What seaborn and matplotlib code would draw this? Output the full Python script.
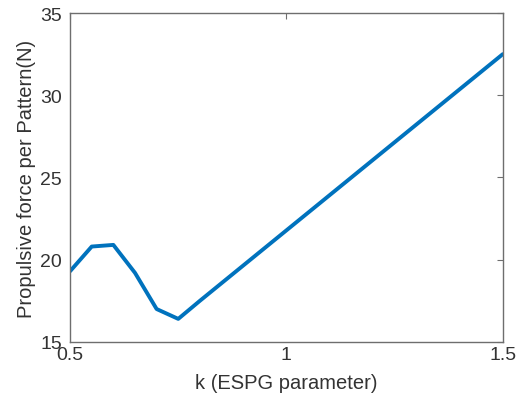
import matplotlib
matplotlib.use("Agg")
import matplotlib.pyplot as plt
import seaborn as sns
import pandas as pd

# DATA
k_values = [0.5, 0.55, 0.6, 0.65, 0.7, 0.75, 0.8, 1.5]
force_values = [19.3, 20.8, 20.9, 19.2, 17.0, 16.4, 17.5, 32.5]

df = pd.DataFrame({"k": k_values, "force": force_values})

sns.set_style("white")
plt.rcParams["font.family"] = ["Liberation Sans", "DejaVu Sans"]

fig = plt.figure(figsize=(5.27, 4.02), dpi=100)
ax = fig.add_axes([0.133, 0.147, 0.821, 0.818])

sns.lineplot(data=df, x="k", y="force", ax=ax, color="#0072BD", linewidth=2.8)

ax.set_xlim(0.5, 1.5)
ax.set_ylim(15, 35)
ax.set_xticks([0.5, 1, 1.5])
ax.set_xticklabels(["0.5", "1", "1.5"])
ax.set_yticks([15, 20, 25, 30, 35])

for s in ax.spines.values():
    s.set_color("#6e6e6e")
    s.set_linewidth(1.0)

ax.tick_params(direction="in", length=4, width=0.8, color="#6e6e6e",
               labelsize=14, labelcolor="#333333", top=True, right=True)
ax.tick_params(axis="x", pad=3)
ax.tick_params(axis="y", pad=6)

ax.set_xlabel("k (ESPG parameter)", fontsize=14.5, color="#333333", labelpad=7)
ax.set_ylabel("Propulsive force per Pattern(N)", fontsize=14.5, color="#333333", labelpad=3)

fig.savefig("out.png", dpi=100)
